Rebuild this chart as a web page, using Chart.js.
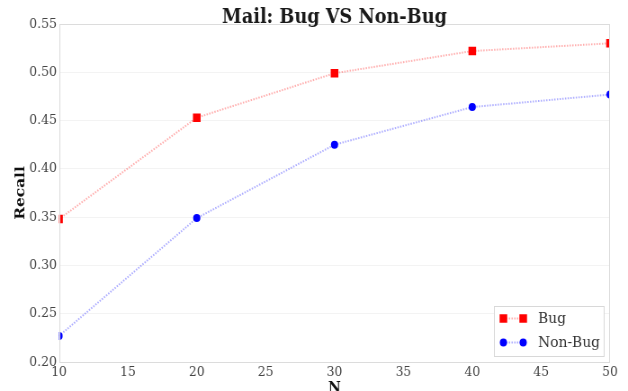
<!DOCTYPE html>
<html>
<head>
<meta charset="utf-8">
<script src="https://cdn.jsdelivr.net/npm/chart.js@4/dist/chart.umd.min.js"></script>
<style>
  html, body { margin: 0; padding: 0; background: #ffffff; overflow: hidden; }
  #wrap { width: 628px; height: 391px; overflow: hidden; }
  /* the figure is laid out 698px wide and shown narrowed to 628px */
  #chart { transform: scaleX(0.8997); transform-origin: 0 0; display: block; }
</style>
</head>
<body>
<div id="wrap"><canvas id="chart" width="698" height="391"></canvas></div>
<script>
// Recall at top-N for the Mail project, bug vs non-bug reports
const nValues = [10, 20, 30, 40, 50];
const bugRecall = [0.348, 0.453, 0.499, 0.522, 0.530];
const nonBugRecall = [0.227, 0.349, 0.425, 0.464, 0.477];
const seriesNames = ['Bug', 'Non-Bug'];
const chartTitle = 'Mail: Bug VS Non-Bug';
const yTickStep = 0.05;
const xTickStep = 5;

const SERIF = '"DejaVu Serif", "Liberation Serif", serif';

function toPoints(xs, ys) {
  return xs.map((x, i) => ({ x: x, y: ys[i] }));
}

// Light frame around the plotting area
const frame = {
  id: 'frame',
  afterDatasetsDraw(chart) {
    const { ctx, chartArea: a } = chart;
    ctx.save();
    ctx.strokeStyle = '#dcdcdc';
    ctx.lineWidth = 1;
    ctx.strokeRect(Math.round(a.left) + 0.5, Math.round(a.top) + 0.5,
                   Math.round(a.right - a.left) - 1, Math.round(a.bottom - a.top));
    ctx.restore();
  }
};

// Title centred over the plotting area, sitting right on its top edge
const plotTitle = {
  id: 'plotTitle',
  afterDraw(chart) {
    const { ctx, chartArea: a } = chart;
    ctx.save();
    ctx.fillStyle = '#1a1a1a';
    ctx.font = 'bold 19.7px ' + SERIF;
    ctx.textAlign = 'center';
    ctx.textBaseline = 'alphabetic';
    ctx.fillText(chartTitle, (a.left + a.right) / 2, a.top - 1.3);
    ctx.restore();
  }
};

function drawMarker(ctx, style, x, y, r, color) {
  ctx.fillStyle = color;
  ctx.beginPath();
  if (style === 'rect') {
    const s = Math.SQRT1_2 * r;
    ctx.rect(x - s, y - s, 2 * s, 2 * s);
  } else {
    ctx.arc(x, y, r, 0, Math.PI * 2);
  }
  ctx.fill();
}

// Legend box in the lower-right corner of the plot
const insetLegend = {
  id: 'insetLegend',
  afterDraw(chart) {
    const { ctx, chartArea: a } = chart;
    const w = 122, h = 50;
    const x0 = a.right - 7 - w, y0 = a.bottom - 6 - h;
    ctx.save();
    ctx.fillStyle = '#ffffff';
    ctx.fillRect(x0, y0, w, h);
    ctx.strokeStyle = '#d8d8d8';
    ctx.lineWidth = 1;
    ctx.strokeRect(Math.round(x0) + 0.5, Math.round(y0) + 0.5, w, h);
    chart.data.datasets.forEach((ds, i) => {
      const cy = y0 + 12.5 + i * 24;
      const m1 = x0 + 10.5, m2 = x0 + 32.5;
      ctx.strokeStyle = ds.borderColor;
      ctx.lineWidth = ds.borderWidth;
      ctx.setLineDash(ds.borderDash);
      ctx.beginPath();
      ctx.moveTo(m1, cy);
      ctx.lineTo(m2, cy);
      ctx.stroke();
      ctx.setLineDash([]);
      drawMarker(ctx, ds.pointStyle, m1, cy, ds.pointRadius, ds.pointBackgroundColor);
      drawMarker(ctx, ds.pointStyle, m2, cy, ds.pointRadius, ds.pointBackgroundColor);
      ctx.fillStyle = '#333333';
      ctx.font = '15.4px ' + SERIF;
      ctx.textAlign = 'left';
      ctx.textBaseline = 'middle';
      ctx.fillText(ds.label, x0 + 49, cy);
    });
    ctx.restore();
  }
};

new Chart(document.getElementById('chart'), {
  type: 'line',
  data: {
    datasets: [
      {
        label: seriesNames[0],
        data: toPoints(nValues, bugRecall),
        borderColor: 'rgba(255, 0, 0, 0.32)',
        borderWidth: 2,
        borderDash: [1.5, 1.5],
        pointStyle: 'rect',
        pointRadius: 6,
        pointBackgroundColor: '#ff0000',
        pointBorderColor: '#ff0000',
        pointBorderWidth: 0,
        tension: 0,
        clip: 0
      },
      {
        label: seriesNames[1],
        data: toPoints(nValues, nonBugRecall),
        borderColor: 'rgba(0, 0, 255, 0.32)',
        borderWidth: 2,
        borderDash: [1.5, 1.5],
        pointStyle: 'circle',
        pointRadius: 4,
        pointBackgroundColor: '#0000ff',
        pointBorderColor: '#0000ff',
        pointBorderWidth: 0,
        tension: 0,
        clip: 0
      }
    ]
  },
  options: {
    responsive: false,
    animation: false,
    devicePixelRatio: 1,
    layout: { padding: { left: 0, right: 20, top: 24, bottom: 0 } },
    plugins: {
      legend: { display: false },
      tooltip: { enabled: false },
      title: { display: false }
    },
    scales: {
      x: {
        type: 'linear',
        min: nValues[0],
        max: nValues[nValues.length - 1],
        afterFit(scale) { scale.height = 29; },
        ticks: {
          stepSize: xTickStep,
          padding: 2,
          color: '#444444',
          font: { family: SERIF, size: 13.7 },
          maxRotation: 0
        },
        grid: { display: false, drawTicks: false },
        border: { display: false },
        title: {
          display: true,
          text: 'N',
          color: '#111111',
          font: { family: SERIF, size: 15.4, weight: 'bold', lineHeight: 1.2 },
          padding: { top: 0, bottom: -5.9 }
        }
      },
      y: {
        min: 0.2,
        max: 0.55,
        afterFit(scale) { scale.width = 65.6; },
        ticks: {
          stepSize: yTickStep,
          padding: 2.5,
          color: '#444444',
          font: { family: SERIF, size: 13.7 },
          callback: (v) => Number(v).toFixed(2)
        },
        grid: { color: '#f3f3f3', lineWidth: 1, drawTicks: false },
        border: { display: false },
        title: {
          display: true,
          text: 'Recall',
          color: '#111111',
          font: { family: SERIF, size: 15.4, weight: 'bold', lineHeight: 1.2 },
          padding: { top: 14, bottom: 0 }
        }
      }
    }
  },
  plugins: [frame, plotTitle, insetLegend]
});
</script>
</body>
</html>
